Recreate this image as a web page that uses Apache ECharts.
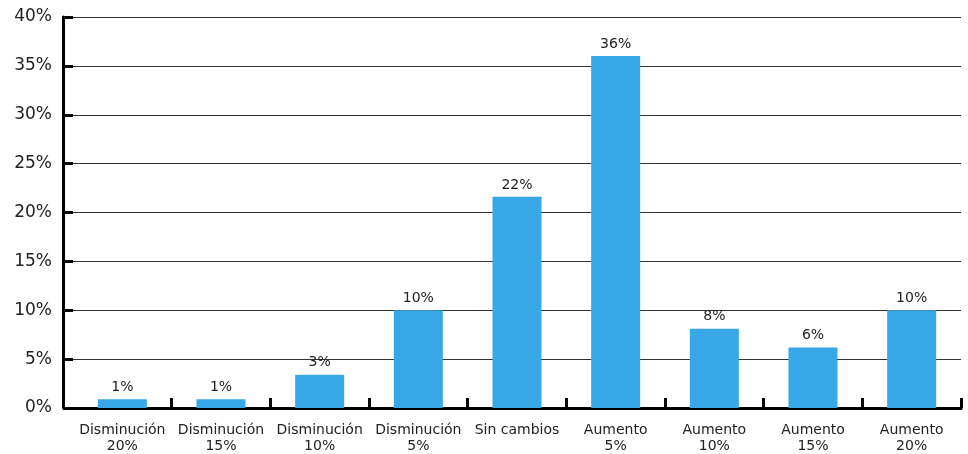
<!DOCTYPE html>
<html>
<head>
<meta charset="utf-8">
<script src="https://cdn.jsdelivr.net/npm/echarts@6/dist/echarts.min.js"></script>
<style>html,body{margin:0;padding:0;background:#fff}#c{width:968px;height:454px}</style>
</head>
<body>
<div id="c"></div>
<script>
const categories = ["Disminución\n20%", "Disminución\n15%", "Disminución\n10%", "Disminución\n5%", "Sin cambios", "Aumento\n5%", "Aumento\n10%", "Aumento\n15%", "Aumento\n20%"];
const values = [0.9, 0.9, 3.4, 10.0, 21.6, 36.0, 8.1, 6.2, 10.0];
const yTicks = [0, 5, 10, 15, 20, 25, 30, 35, 40];

const chart = echarts.init(document.getElementById('c'));
chart.setOption({
  animation: false,
  backgroundColor: '#fff',
  textStyle: { fontFamily: 'DejaVu Sans' },
  grid: { left: 73, right: 7, top: 17, bottom: 44, containLabel: false },
  xAxis: {
    type: 'category',
    data: categories,
    boundaryGap: true,
    axisLine: { show: true, lineStyle: { color: '#000', width: 3 } },
    axisTick: { show: true, inside: true, length: 10, alignWithLabel: false, interval: (i) => i !== 0, lineStyle: { color: '#000', width: 3 } },
    axisLabel: { color: '#222', fontSize: 14, lineHeight: 16, margin: 14, interval: 0, fontFamily: 'DejaVu Sans' }
  },
  yAxis: {
    type: 'value',
    min: yTicks[0],
    max: yTicks[yTicks.length - 1],
    interval: 5,
    offset: 10,
    axisLine: { show: true, lineStyle: { color: '#000', width: 3 } },
    axisTick: { show: true, inside: true, length: 10, lineStyle: { color: '#000', width: 3 } },
    axisLabel: { color: '#222', fontSize: 17, margin: 11, formatter: v => v + '%', fontFamily: 'DejaVu Sans' },
    splitLine: { show: true, lineStyle: { color: '#333', width: 1 } }
  },
  series: [{
    type: 'bar',
    data: values,
    barWidth: 49,
    itemStyle: { color: '#37a7e8' },
    label: {
      show: true,
      position: 'top',
      distance: 5,
      color: '#222',
      fontSize: 14,
      fontFamily: 'DejaVu Sans',
      formatter: p => Math.round(p.value) + '%'
    }
  }]
});
</script>
</body>
</html>
